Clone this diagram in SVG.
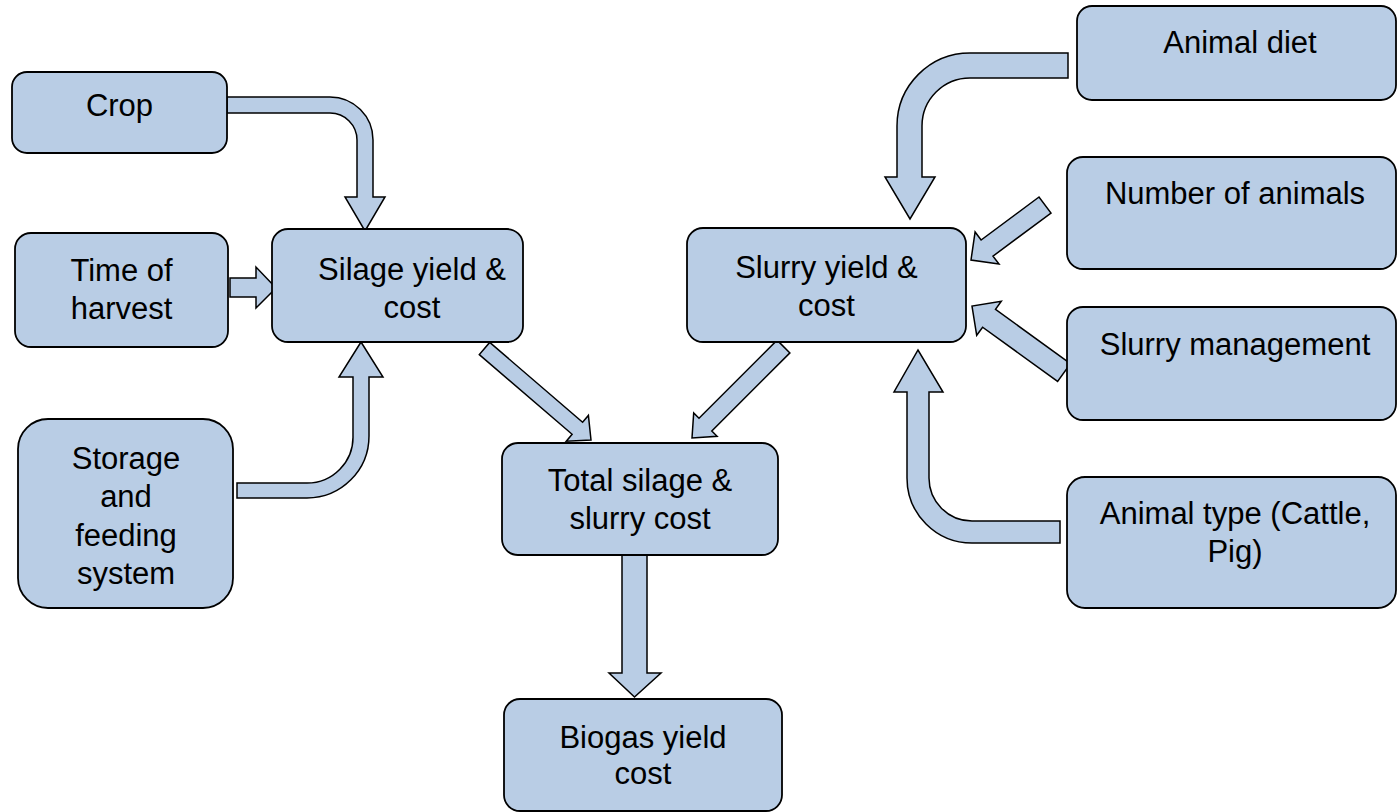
<svg xmlns="http://www.w3.org/2000/svg" width="1397" height="812" viewBox="0 0 1397 812">
<style>
.box{fill:#B9CDE5;stroke:#000;stroke-width:1.8}
.arr{fill:#B9CDE5;stroke:#000;stroke-width:1.5;stroke-linejoin:miter}
text{font-family:"Liberation Sans",Arial,sans-serif;font-size:31px;fill:#000;text-anchor:middle}
</style>
<rect width="1397" height="812" fill="#fff"/>
<g id="connectors">
<path class="arr" d="M227,97 H330 A43,43 0 0 1 373,140 V197 H385 L365,231 L345,197 H357 V140 A27,27 0 0 0 330,113 H227 Z"/>
<path class="arr" d="M230,278 H256 V267 L276,288 L256,308 V297 H230 Z"/>
<path class="arr" d="M237,483 H307 A46,46 0 0 0 353,436 V377 H339 L361,342 L383,377 H369 V436 A62,62 0 0 1 307,498 H237 Z"/>
<path class="arr" d="M479.3,354.6 L572.1,434.3 L566.3,441.2 L591,440 L588.4,415.4 L582.6,422.2 L489.7,342.4 Z"/>
<path class="arr" d="M777.1,340.1 L699,418.2 L693.7,412.9 L692,438 L717.1,436.3 L711.8,431 L789.9,352.9 Z"/>
<path class="arr" d="M622,555 H647 V673 H661 L634.5,697 L609,673 H622 Z"/>
<path class="arr" d="M1068,53 H970 A73,73 0 0 0 897,126 V177 H885 L910,219 L935,177 H922 V126 A48,48 0 0 1 970,78 H1068 Z"/>
<path class="arr" d="M1039,197 L981.1,240 L975.1,232 L971,260 L999,264.1 L993,256.1 L1051,213 Z"/>
<path class="arr" d="M1070.4,363.6 L995.5,309.4 L1001.3,301.3 L972,306 L976.7,335.3 L982.6,327.2 L1057.6,381.4 Z"/>
<path class="arr" d="M1060,521 H972 A43,43 0 0 1 929,478 V392 H943 L918,350 L894,392 H907 V478 A65,65 0 0 0 972,543 H1060 Z"/>
</g>
<g id="crop"><rect class="box" x="12" y="72" width="215" height="81" rx="15"/><text x="119.5" y="116">Crop</text></g>
<g id="time"><rect class="box" x="15" y="233" width="213" height="114" rx="16"/><text x="121.5" y="281">Time of</text><text x="121.5" y="319">harvest</text></g>
<g id="storage"><rect class="box" x="18" y="419" width="215" height="189" rx="30"/><text x="126" y="469">Storage</text><text x="126" y="507">and</text><text x="126" y="546">feeding</text><text x="126" y="584">system</text></g>
<g id="silage"><rect class="box" x="272" y="229" width="251" height="113" rx="16"/><text x="412" y="280">Silage yield &amp;</text><text x="412" y="318">cost</text></g>
<g id="slurry"><rect class="box" x="687" y="228" width="279" height="114" rx="16"/><text x="826.5" y="278">Slurry yield &amp;</text><text x="826.5" y="316">cost</text></g>
<g id="total"><rect class="box" x="502" y="443" width="276" height="112" rx="16"/><text x="640" y="491">Total silage &amp;</text><text x="640" y="529">slurry cost</text></g>
<g id="biogas"><rect class="box" x="504" y="699" width="278" height="112" rx="16"/><text x="643" y="748">Biogas yield</text><text x="643" y="784">cost</text></g>
<g id="diet"><rect class="box" x="1077" y="6" width="319" height="94" rx="15"/><text x="1240" y="53">Animal diet</text></g>
<g id="number"><rect class="box" x="1067" y="157" width="329" height="112" rx="16"/><text x="1235" y="204">Number of animals</text></g>
<g id="management"><rect class="box" x="1067" y="307" width="329" height="113" rx="16"/><text x="1235" y="355">Slurry management</text></g>
<g id="type"><rect class="box" x="1067" y="477" width="329" height="131" rx="18"/><text x="1235" y="524">Animal type (Cattle,</text><text x="1235" y="562">Pig)</text></g>
</svg>
